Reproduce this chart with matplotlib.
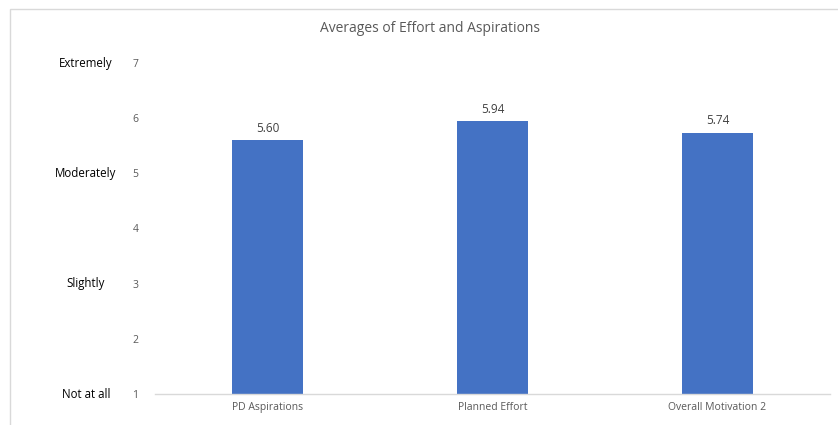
import matplotlib.pyplot as plt
from matplotlib.patches import Rectangle
from matplotlib.transforms import blended_transform_factory

# Data
categories = ["PD Aspirations", "Planned Effort", "Overall Motivation 2"]
values = [5.60, 5.94, 5.74]
yticks = [1, 2, 3, 4, 5, 6, 7]
scale_labels = {7: "Extremely", 5: "Moderately", 3: "Slightly", 1: "Not at all"}

plt.rcParams['font.family'] = ['Open Sans', 'DejaVu Sans']

W, H = 838, 425
fig = plt.figure(figsize=(W / 100, H / 100), dpi=100)
ax = fig.add_axes([155 / W, 31 / H, (830 - 155) / W, (394 - 63) / H])

x = range(len(categories))
ax.bar(x, values, width=0.315, color="#4472C4")
ax.set_ylim(1, 7)
ax.set_xlim(-0.5, 2.5)

for xi, v in zip(x, values):
    ax.text(xi, v + 0.1, f"{v:.2f}", ha="center", va="bottom", fontsize=8.5, color="#404040")

ax.set_xticks(list(x))
ax.set_xticklabels(categories, fontsize=7.5, color="#595959")
ax.set_yticks(yticks)
ax.set_yticklabels([str(t) for t in yticks], fontsize=7.5, color="#595959")
ax.tick_params(axis="both", length=0)
ax.tick_params(axis="y", pad=12)
ax.tick_params(axis="x", pad=6)

for s in ["top", "right", "left"]:
    ax.spines[s].set_visible(False)
ax.spines["bottom"].set_color("#d9d9d9")
ax.spines["bottom"].set_linewidth(1)

# text scale labels on the far left
lab_tf = blended_transform_factory(fig.transFigure, ax.transData)
for val, lab in scale_labels.items():
    ax.text(86 / W, val, lab, transform=lab_tf, ha="center", va="center",
            fontsize=8.3, color="black")

fig.text(430 / W, 1 - 29 / H, "Averages of Effort and Aspirations", ha="center", va="center",
         fontsize=10, color="#595959")

# chart area border (cropped at right and bottom)
fig.patches.append(Rectangle((10 / W, -0.1), 1.0, 1.1 - 9 / H, transform=fig.transFigure,
                             fill=False, edgecolor="#d9d9d9", linewidth=1))

fig.savefig("out.png", dpi=100)
